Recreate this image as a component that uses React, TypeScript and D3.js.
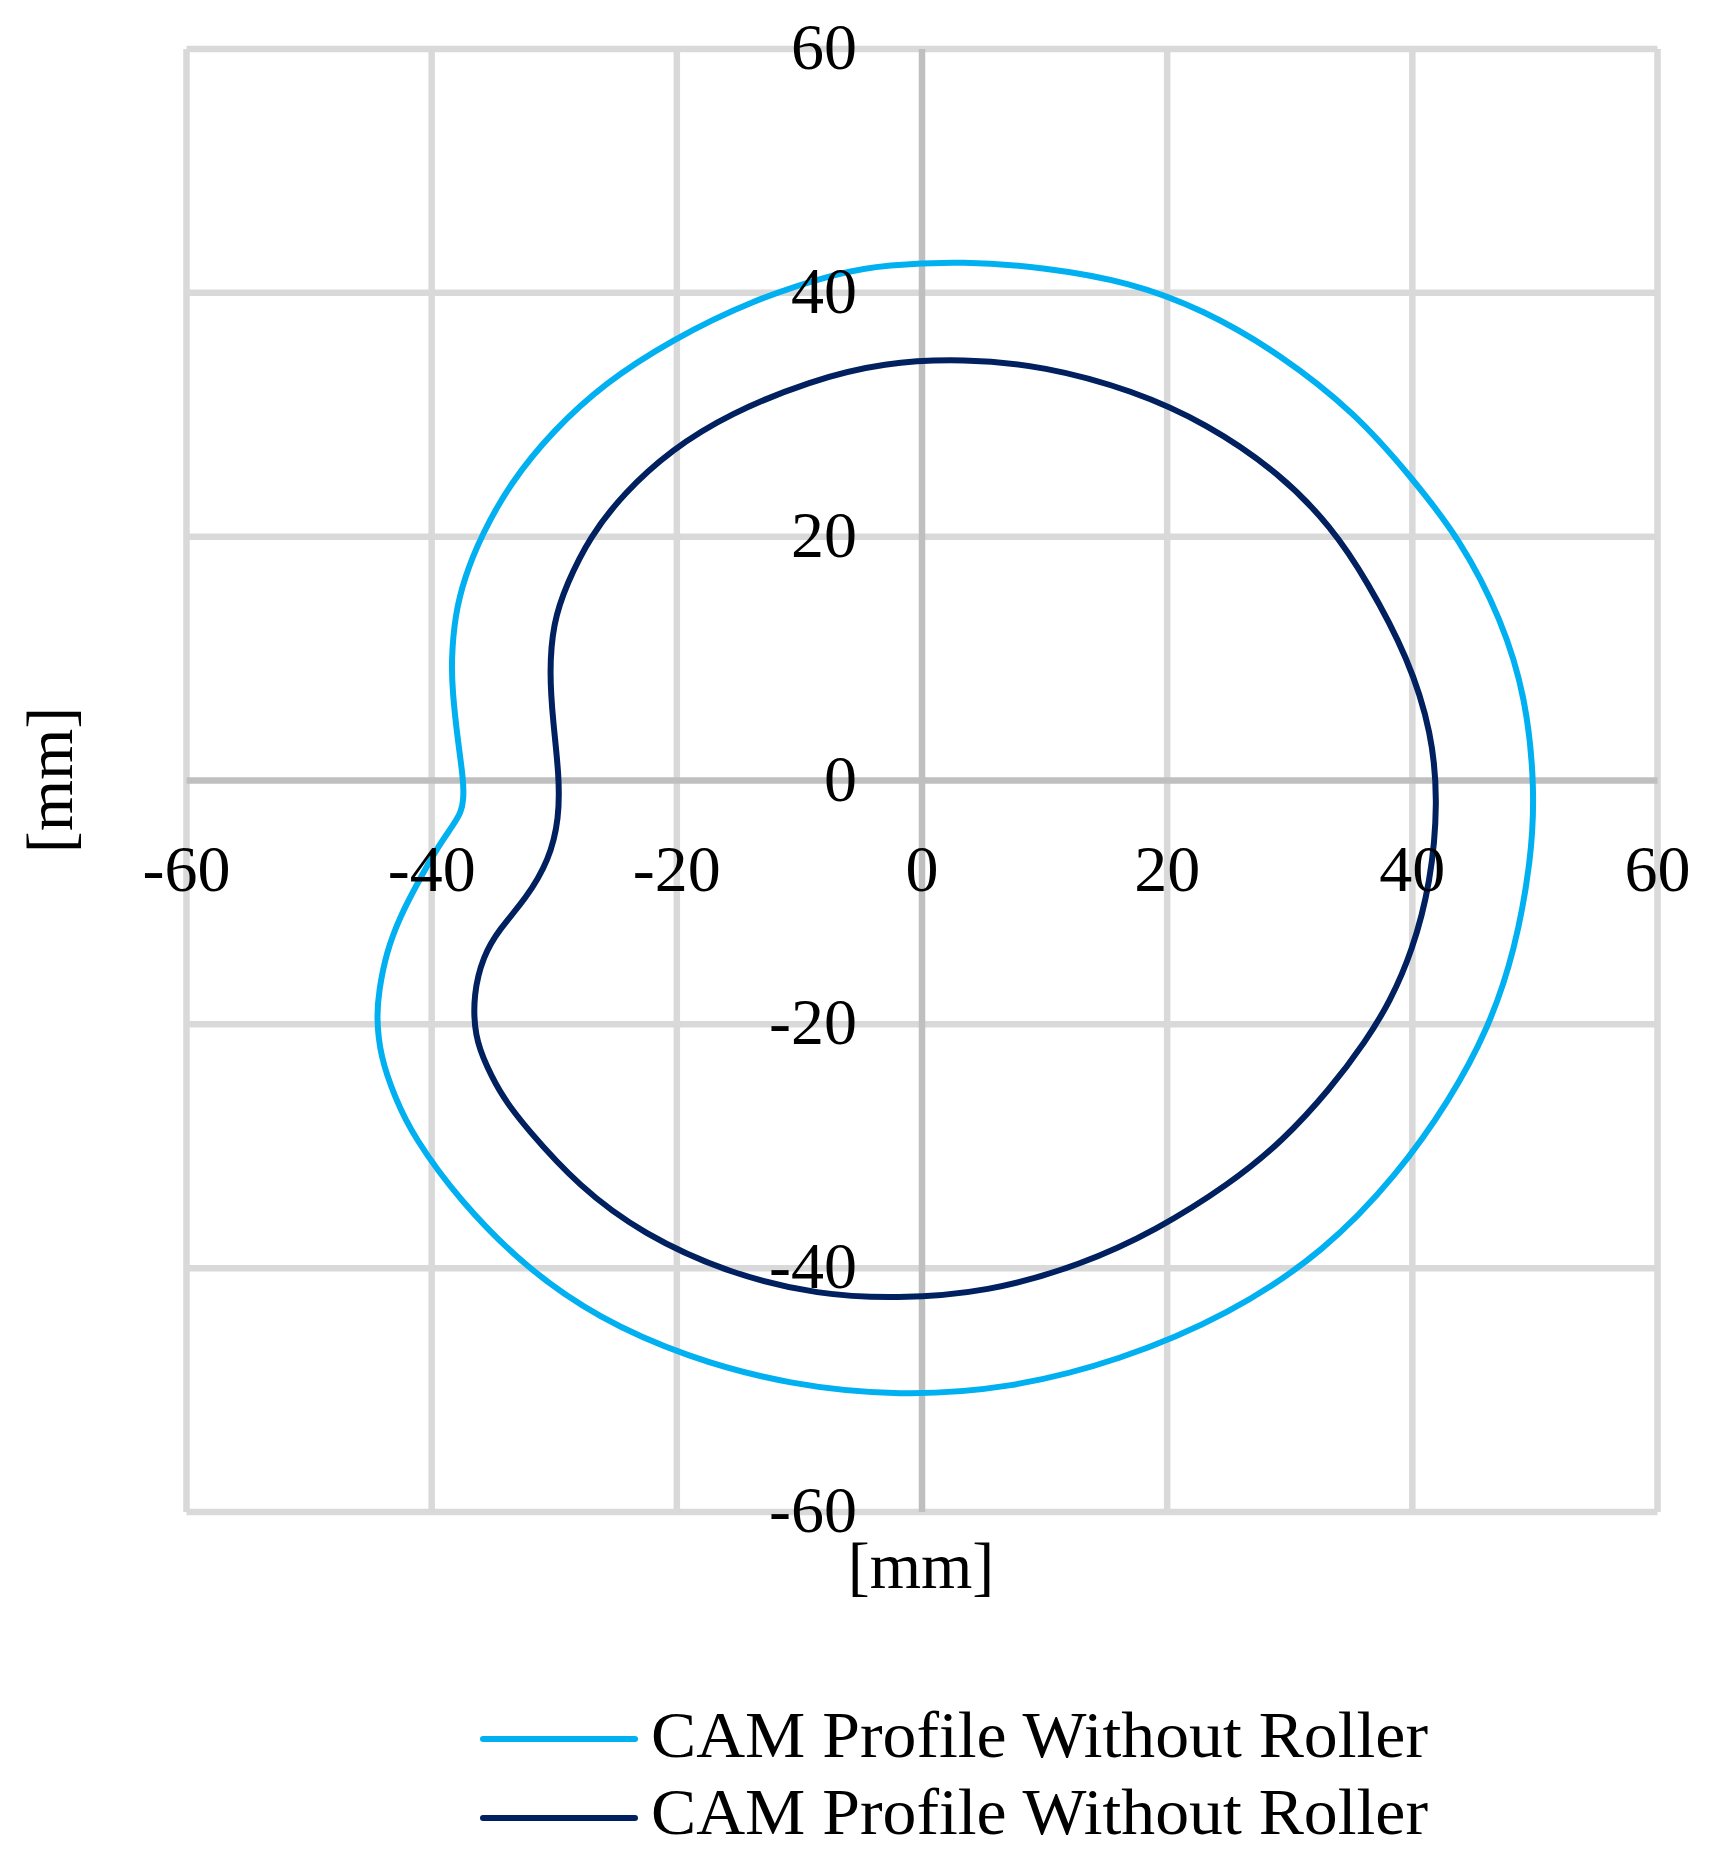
import React from "react";
import * as d3 from "d3";

const ticks = [-60, -40, -20, 0, 20, 40, 60];
const tickLabels = ["-60", "-40", "-20", "0", "20", "40", "60"];
const seriesNames = ["CAM Profile Without Roller", "CAM Profile Without Roller"];
const seriesColors = ["#00B0F0", "#002060"];

// Outer profile (light blue) [x, y] in mm
const outerProfile: [number, number][] = [
  [46.2, -20.4], [48.4, -13.9], [49.7, -6.5], [50.0, -0.8], [49.3, 6.7], [47.3, 13.2],
  [43.9, 19.8], [39.9, 24.9], [35.4, 30.1], [29.2, 35.0], [23.0, 38.6], [16.9, 40.9],
  [10.0, 42.1], [3.4, 42.6], [-3.0, 42.3], [-6.7, 41.7], [-13.9, 39.4], [-20.5, 36.1],
  [-25.9, 32.6], [-30.1, 28.7], [-33.6, 24.4], [-36.0, 20.0], [-37.3, 16.7], [-38.1, 13.6],
  [-38.4, 9.8], [-38.3, 7.3], [-37.9, 3.5], [-37.4, 0.0], [-37.4, -1.6], [-37.6, -2.6], [-38.2, -3.6],
  [-39.6, -5.6], [-41.2, -8.5], [-42.6, -11.2], [-43.7, -14.1], [-44.3, -17.2], [-44.5, -19.4],
  [-44.2, -22.6], [-43.0, -26.0], [-41.5, -29.2], [-37.7, -34.5], [-32.3, -40.0], [-26.4, -44.1],
  [-19.2, -47.3], [-10.8, -49.6], [-1.8, -50.5], [7.1, -49.9], [16.1, -47.6], [25.1, -43.8],
  [32.9, -38.6], [38.8, -32.3], [43.0, -26.3],
];

// Inner profile (dark navy) [x, y] in mm
const innerProfile: [number, number][] = [
  [33.3, -25.3], [36.2, -21.4], [38.2, -18.1], [40.0, -14.0], [41.5, -8.4], [42.1, -1.8], [41.6, 3.9],
  [39.7, 10.0], [36.3, 16.4], [33.4, 20.8], [29.2, 25.2], [23.2, 29.3], [17.2, 32.0],
  [10.0, 34.0], [3.4, 34.6], [-3.1, 34.3], [-9.1, 32.8], [-15.7, 30.1], [-20.5, 27.1],
  [-24.3, 23.6], [-27.1, 20.0], [-29.0, 16.1], [-30.1, 12.9], [-30.4, 8.9], [-30.1, 4.8],
  [-29.6, 0.4], [-29.6, -3.1], [-30.4, -6.5], [-32.3, -9.7], [-34.5, -12.2], [-35.8, -14.4],
  [-36.6, -17.5], [-36.5, -21.0], [-35.5, -23.5], [-34.2, -26.0], [-32.3, -28.5], [-28.0, -33.3],
  [-22.8, -37.2], [-15.6, -40.5], [-8.4, -42.2], [-2.1, -42.5], [5.3, -42.0], [13.1, -39.7],
  [19.1, -36.9], [25.1, -33.1], [29.4, -29.6],
];

const W = 1710;
const H = 1862;
const FONT = "'Liberation Serif', 'Times New Roman', serif";

export default function App() {
  const x = d3.scaleLinear().domain([-60, 60]).range([186.5, 1657.5]);
  const y = d3.scaleLinear().domain([-60, 60]).range([1512, 49]);
  const line = d3
    .line<[number, number]>()
    .x((d) => x(d[0]))
    .y((d) => y(d[1]))
    .curve(d3.curveBasisClosed);

  const profiles = [outerProfile, innerProfile];
  const gridW = 6.5;

  return (
    <svg
      width={W}
      height={H}
      style={{ position: "absolute", left: 0, top: 0, display: "block", background: "#fff" }}
      fontFamily={FONT}
    >
      <rect x={0} y={0} width={W} height={H} fill="#fff" />
      {ticks.filter((t) => t !== 0).map((t) => (
        <line key={"v" + t} x1={x(t)} x2={x(t)} y1={y(60)} y2={y(-60)} stroke="#d9d9d9" strokeWidth={gridW} />
      ))}
      {ticks.filter((t) => t !== 0).map((t) => (
        <line key={"h" + t} x1={x(-60)} x2={x(60)} y1={y(t)} y2={y(t)} stroke="#d9d9d9" strokeWidth={gridW} />
      ))}
      <line x1={x(0)} x2={x(0)} y1={y(60)} y2={y(-60)} stroke="#bfbfbf" strokeWidth={gridW} />
      <line x1={x(-60)} x2={x(60)} y1={y(0)} y2={y(0)} stroke="#bfbfbf" strokeWidth={gridW} />
      {profiles.map((p, i) => (
        <path key={"p" + i} d={line(p) || ""} fill="none" stroke={seriesColors[i]} strokeWidth={6} strokeLinejoin="round" />
      ))}
      {ticks.map((t, i) => (
        <text key={"xt" + t} x={x(t)} y={891} textAnchor="middle" fontSize={66} fill="#000">
          {tickLabels[i]}
        </text>
      ))}
      {ticks.map((t, i) => (
        <text key={"yt" + t} x={857} y={y(t) + 20} textAnchor="end" fontSize={66} fill="#000">
          {tickLabels[i]}
        </text>
      ))}
      <text x={921} y={1588} textAnchor="middle" fontSize={66} fill="#000">[mm]</text>
      <text transform={`translate(72, 780) rotate(-90)`} textAnchor="middle" fontSize={66} fill="#000">[mm]</text>
      {seriesNames.map((n, i) => {
        const ly = [1739, 1818][i];
        const by = [1757, 1834][i];
        return (
          <g key={"lg" + i}>
            <line x1={483} x2={635} y1={ly} y2={ly} stroke={seriesColors[i]} strokeWidth={6} strokeLinecap="round" />
            <text x={651} y={by} fontSize={66} fill="#000" textLength={777} lengthAdjust="spacingAndGlyphs">
              {n}
            </text>
          </g>
        );
      })}
    </svg>
  );
}
